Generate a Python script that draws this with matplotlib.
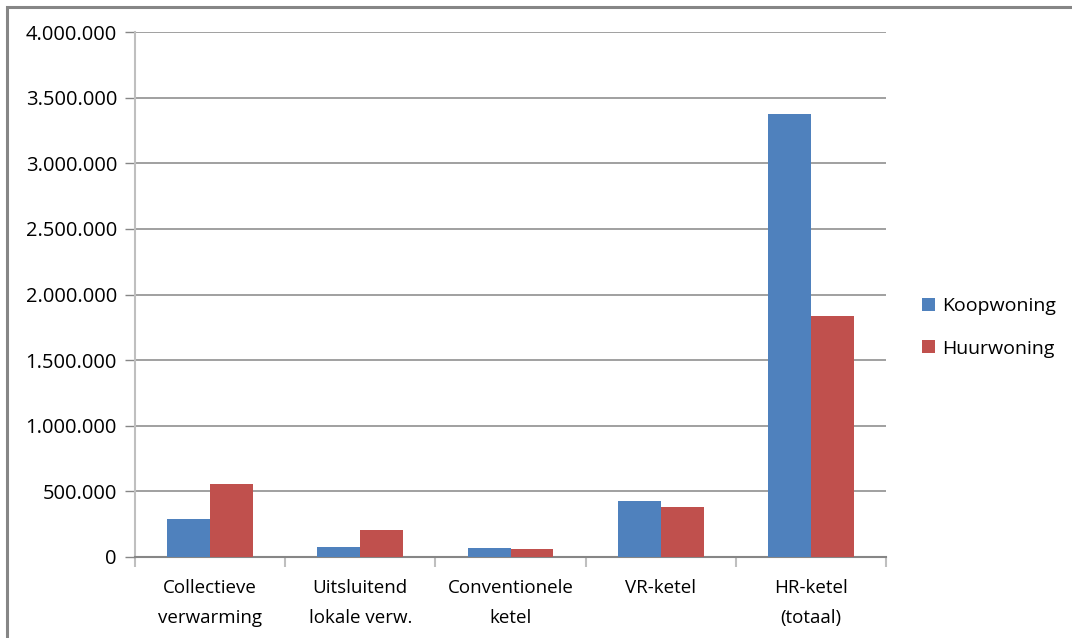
import matplotlib
matplotlib.use("Agg")
import matplotlib.pyplot as plt
import numpy as np
from matplotlib.ticker import FuncFormatter, MultipleLocator, FixedLocator
from matplotlib.patches import Rectangle

# data
categories = ["Collectieve\nverwarming", "Uitsluitend\nlokale verw.", "Conventionele\nketel",
              "VR-ketel", "HR-ketel\n(totaal)"]
koopwoning = [286000, 79000, 71000, 423000, 3379000]
huurwoning = [554000, 209000, 64000, 378000, 1840000]
series_names = ["Koopwoning", "Huurwoning"]

blue = "#4F81BD"
red = "#C0504D"
plt.rcParams['font.family'] = ['Open Sans', 'DejaVu Sans']

W, H = 1072, 638
fig = plt.figure(figsize=(W / 100, H / 100), dpi=100)
ax = fig.add_axes([135 / W, (H - 557) / H, (886 - 135) / W, (557 - 32) / H])

# outer chart border (left/top visible)
fig.patches.append(Rectangle((7 / W, -0.1), 1.2, (H - 7) / H + 0.1, transform=fig.transFigure,
                             fill=False, edgecolor="#868686", linewidth=2.2))

x = np.arange(len(categories))
bw = 0.286
ax.bar(x - bw / 2, koopwoning, bw, color=blue, label=series_names[0], zorder=3)
ax.bar(x + bw / 2, huurwoning, bw, color=red, label=series_names[1], zorder=3)

ax.set_xlim(-0.5, len(categories) - 0.5)
ax.set_ylim(0, 4000000)
ax.yaxis.set_major_locator(MultipleLocator(500000))
ax.yaxis.set_major_formatter(FuncFormatter(lambda v, p: f"{int(v):,}".replace(",", ".")))
ax.grid(axis="y", color="#868686", linewidth=1.1, zorder=0)

ax.set_xticks(x)
ax.set_xticklabels(categories, fontsize=13.5, linespacing=1.85)
ax.tick_params(axis="x", which="major", length=0, pad=16)
ax.xaxis.set_minor_locator(FixedLocator(np.arange(-0.5, len(categories), 1.0)))
ax.tick_params(axis="x", which="minor", length=7, color="#BFBFBF", width=1.5)
ax.tick_params(axis="y", length=7, color="#868686", width=1, labelsize=14.5, pad=6)

for s in ["top", "right"]:
    ax.spines[s].set_visible(False)
ax.spines["left"].set_color("#BFBFBF")
ax.spines["left"].set_linewidth(1.5)
ax.spines["bottom"].set_color("#868686")
ax.spines["bottom"].set_linewidth(1.5)

leg = ax.legend(loc="center left", bbox_to_anchor=(1.025, 0.437), frameon=False,
                fontsize=14, handlelength=0.65, handleheight=0.65, handletextpad=0.35,
                labelspacing=1.25)

fig.savefig("out.png", dpi=100)
